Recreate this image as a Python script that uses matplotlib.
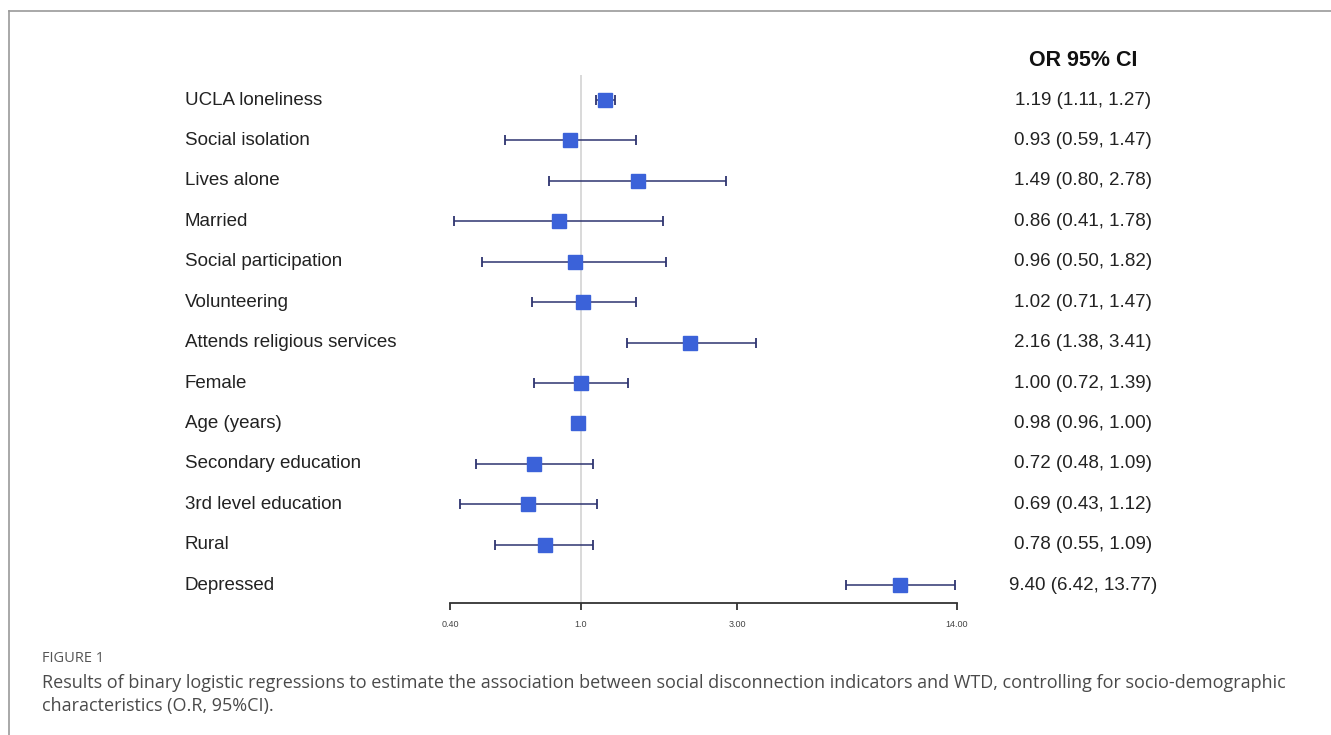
import matplotlib.pyplot as plt
from matplotlib.transforms import blended_transform_factory

labels = ["UCLA loneliness", "Social isolation", "Lives alone", "Married",
          "Social participation", "Volunteering", "Attends religious services",
          "Female", "Age (years)", "Secondary education", "3rd level education",
          "Rural", "Depressed"]
odds = [1.19, 0.93, 1.49, 0.86, 0.96, 1.02, 2.16, 1.00, 0.98, 0.72, 0.69, 0.78, 9.40]
lower = [1.11, 0.59, 0.80, 0.41, 0.50, 0.71, 1.38, 0.72, 0.96, 0.48, 0.43, 0.55, 6.42]
upper = [1.27, 1.47, 2.78, 1.78, 1.82, 1.47, 3.41, 1.39, 1.00, 1.09, 1.12, 1.09, 13.77]
or_text = ["1.19 (1.11, 1.27)", "0.93 (0.59, 1.47)", "1.49 (0.80, 2.78)",
           "0.86 (0.41, 1.78)", "0.96 (0.50, 1.82)", "1.02 (0.71, 1.47)",
           "2.16 (1.38, 3.41)", "1.00 (0.72, 1.39)", "0.98 (0.96, 1.00)",
           "0.72 (0.48, 1.09)", "0.69 (0.43, 1.12)", "0.78 (0.55, 1.09)",
           "9.40 (6.42, 13.77)"]
tick_vals = [0.40, 1.0, 3.00, 14.00]
tick_labels = ["0.40", "1.0", "3.00", "14.00"]

W, H = 1331, 735
fig = plt.figure(figsize=(W / 100, H / 100), dpi=100)
plt.rcParams['font.family'] = ['Liberation Sans', 'DejaVu Sans']

# frame lines of the figure panel
fig.add_artist(plt.Line2D([9 / W, 1], [1 - 11 / H, 1 - 11 / H], color="#9a9a9a", lw=1.2))
fig.add_artist(plt.Line2D([9 / W, 9 / W], [0, 1 - 11 / H], color="#9a9a9a", lw=1.2))

ax = fig.add_axes([450 / W, 1 - 603 / H, 507 / W, (603 - 75) / H])
ax.set_xscale("log")
ax.set_xlim(0.4, 14)
rows = list(range(len(labels)))
ax.set_ylim(12.44, -0.62)

ax.axvline(1.0, color="#d3d3d3", lw=1.2, zorder=0)

xerr = [[o - l for o, l in zip(odds, lower)], [u - o for o, u in zip(odds, upper)]]
ax.errorbar(odds, rows, xerr=xerr, fmt="s", color="#3b62d9", markersize=9.5,
            ecolor="#2e3470", elinewidth=1.1, capsize=3.6, capthick=1.3, zorder=3)

for s in ["top", "right", "left"]:
    ax.spines[s].set_visible(False)
ax.spines["bottom"].set_color("#333333")
ax.spines["bottom"].set_linewidth(1.3)
ax.set_yticks([])
ax.set_xticks(tick_vals)
ax.set_xticklabels(tick_labels)
ax.minorticks_off()
ax.tick_params(axis="x", direction="out", length=5, width=1.3, color="#333333",
               labelsize=6.5, labelcolor="#444444", pad=7)

tr = blended_transform_factory(fig.transFigure, ax.transData)
for i, (lab, t) in enumerate(zip(labels, or_text)):
    ax.text(185 / W, i, lab, transform=tr, ha="left", va="center",
            fontsize=13.5, color="#222222")
    ax.text(1083 / W, i, t, transform=tr, ha="center", va="center",
            fontsize=13.5, color="#222222")

fig.text(1083 / W, 1 - 60 / H, "OR 95% CI", ha="center", va="center",
         fontsize=15.5, fontweight="bold", color="#111111")

fig.text(42 / W, 1 - 658 / H, "FIGURE 1", ha="left", va="center",
         fontsize=10.5, color="#555555", family=["Open Sans", "DejaVu Sans"])
fig.text(42 / W, 1 - 683 / H,
         "Results of binary logistic regressions to estimate the association between "
         "social disconnection indicators and WTD, controlling for socio-demographic",
         ha="left", va="center", fontsize=12.95, color="#4a4a4a",
         family=["Open Sans", "DejaVu Sans"])
fig.text(42 / W, 1 - 706 / H, "characteristics (O.R, 95%CI).", ha="left",
         va="center", fontsize=12.95, color="#4a4a4a",
         family=["Open Sans", "DejaVu Sans"])

fig.savefig("out.png", dpi=100)
